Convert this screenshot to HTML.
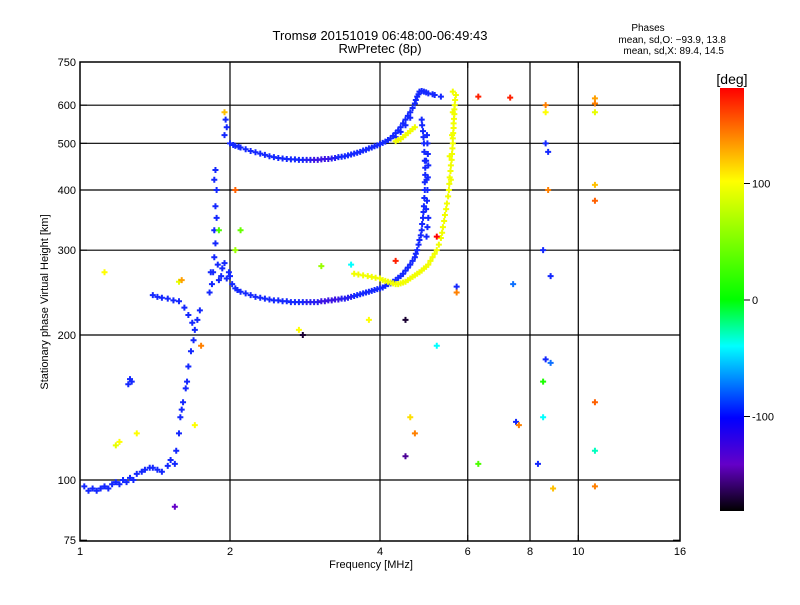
<!DOCTYPE html>
<html><head><meta charset="utf-8"><style>
body{margin:0;background:#fff;width:800px;height:600px;overflow:hidden;font-family:"Liberation Sans",sans-serif}
svg text{font-family:"Liberation Sans",sans-serif;fill:#000}
</style></head><body>
<svg id="chart" width="800" height="600">
<defs><linearGradient id="cb" x1="0" y1="0" x2="0" y2="1">
<stop offset="0" stop-color="#ff0000"/><stop offset="0.11" stop-color="#ff8000"/><stop offset="0.22" stop-color="#ffff00"/><stop offset="0.5" stop-color="#00ff00"/><stop offset="0.61" stop-color="#00ffff"/><stop offset="0.78" stop-color="#0000ff"/><stop offset="0.89" stop-color="#6400c8"/><stop offset="1" stop-color="#000000"/></linearGradient></defs>
<text x="380" y="40" font-size="13" text-anchor="middle">Tromsø 20151019 06:48:00-06:49:43</text>
<text x="380" y="53" font-size="13" text-anchor="middle">RwPretec (8p)</text>
<text x="648" y="31" font-size="10" text-anchor="middle">Phases</text>
<text x="726" y="43" font-size="10" text-anchor="end">mean, sd,O: −93.9, 13.8</text>
<text x="724" y="54" font-size="10" text-anchor="end">mean, sd,X:  89.4, 14.5</text>
<g id="grid"></g>
<g id="marks"></g>
<rect x="80" y="62" width="600" height="479" fill="none" stroke="#000" stroke-width="1.5"/>
<g id="axes"></g>
<text x="371" y="568" font-size="11" text-anchor="middle">Frequency [MHz]</text>
<text x="0" y="0" font-size="11" text-anchor="middle" transform="translate(48,302) rotate(-90)">Stationary phase Virtual Height [km]</text>
<rect x="720" y="88" width="24" height="423" fill="url(#cb)"/>
<text x="732" y="84" font-size="14" text-anchor="middle">[deg]</text>
<g id="cbticks"></g>
</svg>
<script>
const xTicks=[1,2,4,6,8,10,16];
const yTicks=[75,100,200,300,400,500,600,750];
const cbTicks=[100,0,-100];
// [freq MHz, height km, phase deg]
const lowTrace=[[1.02,97,-100],[1.04,95,-100],[1.06,96,-100],[1.08,95,-100],[1.1,96,-100],[1.12,97,-100],[1.14,96,-100],[1.16,98,-100],[1.18,99,-100],[1.2,98,-100],[1.22,100,-100],[1.24,99,-100],[1.26,101,-100],[1.28,100,-100],[1.3,103,-100],[1.33,104,-100],[1.35,105,-100],[1.38,106,-100],[1.4,106,-100],[1.43,105,-100],[1.46,104,-100],[1.5,107,-100],[1.52,110,-100],[1.55,108,-100],[1.56,115,-100],[1.58,125,-100],[1.59,135,-100],[1.6,140,-100],[1.61,145,-100],[1.63,155,-100],[1.64,160,-100],[1.65,172,-100],[1.67,185,-100],[1.69,195,-100],[1.7,205,-100],[1.72,215,-100],[1.74,225,-100],[1.25,158,-100],[1.26,162,-100],[1.27,160,-100],[1.4,242,-100],[1.43,240,-100],[1.46,239,-100],[1.5,238,-100],[1.54,236,-100],[1.58,235,-100],[1.62,228,-100],[1.65,220,-100],[1.68,212,-100]];
const columnTrace=[[1.82,245,-100],[1.84,255,-100],[1.85,270,-100],[1.86,290,-100],[1.87,310,-100],[1.86,330,-100],[1.88,350,-100],[1.87,370,-100],[1.88,400,-100],[1.86,420,-100],[1.87,440,-100],[1.89,280,-100],[1.9,260,-100],[1.92,265,-100],[1.93,275,-100],[1.95,282,-100],[1.97,262,-100],[1.99,270,-100],[1.83,270,-100],[1.95,520,-100],[1.96,560,-100],[1.97,540,-100]];
const oLower=[[2.0,265,-100],[2.02,255,-100],[2.05,250,-100],[2.07,248,-100],[2.1,246,-100],[2.15,244,-100],[2.2,242,-100],[2.25,240,-100],[2.3,239,-100],[2.35,238,-100],[2.4,237,-100],[2.45,236,-100],[2.5,236,-100],[2.55,235,-100],[2.6,235,-100],[2.65,234,-100],[2.7,234,-100],[2.75,234,-100],[2.8,234,-100],[2.85,234,-110],[2.9,234,-110],[2.95,234,-110],[3.0,234,-110],[3.05,235,-120],[3.1,235,-120],[3.15,236,-120],[3.2,236,-120],[3.25,237,-120],[3.3,237,-120],[3.35,238,-110],[3.4,238,-110],[3.45,239,-110],[3.5,240,-110],[3.55,241,-100],[3.6,242,-100],[3.65,243,-100],[3.7,244,-100],[3.75,245,-100],[3.8,246,-100],[3.85,247,-100],[3.9,248,-100],[3.95,249,-100],[4.0,250,-100],[4.05,251,-100],[4.1,253,-100],[4.15,255,-100],[4.2,256,-100],[4.25,258,-100],[4.3,260,-100],[4.35,263,-100],[4.4,265,-100],[4.45,268,-100],[4.5,272,-100],[4.55,276,-100],[4.6,280,-100],[4.65,285,-100],[4.7,290,-100],[4.72,295,-100],[4.75,300,-100],[4.78,308,-100],[4.8,315,-100],[4.83,322,-100],[4.85,330,-100],[4.86,340,-100],[4.88,350,-100],[4.89,360,-100],[4.9,370,-100],[4.91,385,-100],[4.92,400,-100],[4.92,415,-100],[4.93,430,-100],[4.93,445,-100],[4.92,460,-100],[4.91,480,-100],[4.9,500,-100],[4.89,515,-100],[4.88,530,-100],[4.86,545,-100],[4.85,560,-100],[4.97,380,-100],[4.98,400,-100],[4.99,425,-100],[5.0,450,-100],[4.99,475,-100],[4.98,500,-100],[4.97,520,-100],[5.0,350,-100],[4.98,335,-100],[4.96,320,-100],[4.95,365,-100],[4.96,420,-100],[4.95,460,-100]];
const oUpper=[[2.0,500,-100],[2.03,496,-100],[2.05,494,-100],[2.08,492,-100],[2.1,490,-100],[2.15,486,-100],[2.2,482,-100],[2.25,479,-100],[2.3,476,-100],[2.35,473,-100],[2.4,470,-100],[2.45,468,-100],[2.5,466,-100],[2.55,465,-100],[2.6,464,-100],[2.65,463,-100],[2.7,463,-100],[2.75,462,-100],[2.8,462,-100],[2.85,462,-110],[2.9,462,-110],[2.95,462,-120],[3.0,462,-120],[3.05,463,-120],[3.1,464,-120],[3.15,464,-120],[3.2,465,-110],[3.25,466,-110],[3.3,468,-100],[3.35,469,-100],[3.4,470,-100],[3.45,472,-100],[3.5,474,-100],[3.55,476,-100],[3.6,478,-100],[3.65,480,-100],[3.7,483,-100],[3.75,485,-100],[3.8,488,-100],[3.85,490,-100],[3.9,493,-100],[3.95,495,-100],[4.0,498,-100],[4.05,501,-100],[4.1,504,-100],[4.15,508,-100],[4.2,512,-100],[4.25,518,-100],[4.3,525,-100],[4.35,532,-100],[4.4,540,-100],[4.45,550,-100],[4.5,560,-100],[4.55,570,-100],[4.6,580,-100],[4.65,592,-100],[4.7,605,-100],[4.72,615,-100],[4.75,625,-100],[4.78,632,-100],[4.8,640,-100],[4.85,642,-100],[4.9,640,-100],[4.95,638,-100],[5.0,635,-100],[5.1,632,-100],[5.15,630,-100],[5.3,625,-100],[4.6,565,-100],[4.5,545,-100],[4.4,528,-100],[4.3,515,-100]];
const xTrace=[[3.55,268,95],[3.62,267,95],[3.7,266,95],[3.78,265,95],[3.85,264,95],[3.92,263,95],[4.0,262,95],[4.05,260,95],[4.1,259,95],[4.15,258,95],[4.2,257,95],[4.25,256,95],[4.3,255,95],[4.35,255,95],[4.4,256,95],[4.45,257,95],[4.5,258,95],[4.55,260,95],[4.6,262,95],[4.65,264,95],[4.7,266,95],[4.75,268,95],[4.8,270,95],[4.85,272,95],[4.9,275,95],[4.95,277,95],[5.0,280,95],[5.05,285,95],[5.1,290,95],[5.15,295,95],[5.2,300,95],[5.25,308,95],[5.3,318,95],[5.33,326,95],[5.35,335,95],[5.38,345,95],[5.4,355,95],[5.43,365,95],[5.45,375,95],[5.48,388,95],[5.5,400,95],[5.51,412,95],[5.52,425,95],[5.54,438,95],[5.55,450,95],[5.57,462,95],[5.58,475,95],[5.59,488,95],[5.6,500,95],[5.6,512,95],[5.61,525,95],[5.62,538,95],[5.62,550,95],[5.63,562,95],[5.64,575,95],[5.64,588,95],[5.65,600,95],[5.66,615,95],[5.68,630,95],[5.6,640,95],[5.55,420,95],[5.58,520,95],[5.6,580,95],[5.52,470,95],[4.3,505,95],[4.35,508,95],[4.4,510,95],[4.45,515,95],[4.5,520,95],[4.55,525,95],[4.6,530,95],[4.65,535,95],[4.7,540,95]];
const scatter=[[6.3,625,170],[7.3,622,170],[8.6,600,140],[8.6,580,100],[10.8,620,130],[10.8,605,140],[10.8,580,90],[10.8,410,120],[10.8,380,150],[8.7,400,140],[8.7,480,-100],[8.6,500,-100],[8.5,300,-100],[8.8,265,-100],[7.4,255,-80],[8.5,135,-40],[7.5,132,-100],[7.6,130,140],[8.3,108,-100],[6.3,108,30],[8.5,160,10],[8.8,175,-80],[8.6,178,-100],[10.8,145,150],[10.8,115,-30],[10.8,97,140],[8.9,96,120],[4.5,112,-150],[4.6,135,110],[4.7,125,140],[5.2,190,-40],[4.5,215,-170],[3.8,215,100],[1.12,270,100],[1.58,258,90],[1.2,120,100],[1.3,125,100],[1.7,130,100],[1.18,118,90],[1.55,88,-140],[1.75,190,140],[1.9,330,30],[2.05,400,150],[2.05,300,60],[2.1,330,40],[1.6,260,130],[2.8,200,-170],[2.75,205,100],[3.05,278,60],[3.5,280,-40],[4.3,285,170],[5.2,320,180],[5.7,252,-100],[5.7,245,140],[1.95,580,120]];
const traces=[lowTrace,columnTrace,oLower,oUpper,xTrace,scatter];

const NS="http://www.w3.org/2000/svg";
const xs=f=>80+150*Math.log2(f);
const ys=h=>480-145*Math.log2(h/100);
const cy=p=>300-p*1.165;
const stops=[[180,[255,0,0]],[140,[255,128,0]],[100,[255,255,0]],[0,[0,255,0]],[-40,[0,255,255]],[-100,[20,40,255]],[-140,[100,0,200]],[-180,[0,0,0]]];
function col(p){for(let i=0;i<stops.length-1;i++){const a=stops[i],b=stops[i+1];if(p<=a[0]&&p>=b[0]){const t=(a[0]-p)/(a[0]-b[0]);return 'rgb('+a[1].map((v,k)=>Math.round(v+(b[1][k]-v)*t)).join(',')+')';}}return p>180?'red':'black';}
function mk(tag,attrs,parent){const e=document.createElementNS(NS,tag);for(const k in attrs)e.setAttribute(k,attrs[k]);parent.appendChild(e);return e;}
const grid=document.getElementById('grid'),axes=document.getElementById('axes'),marks=document.getElementById('marks'),cbt=document.getElementById('cbticks');
xTicks.forEach(f=>{const x=xs(f);
 if(f>1&&f<16){const l=mk('line',{x1:x,x2:x,y1:62,y2:541,stroke:'#000','stroke-width':1.2},grid);
 
 }
 const t=mk('text',{x:x,y:555,'font-size':11,'text-anchor':'middle'},axes);t.textContent=f;
 
 
 mk('line',{x1:x,x2:x,y1:62,y2:68,stroke:'#000'},axes);mk('line',{x1:x,x2:x,y1:535,y2:541,stroke:'#000'},axes);});
yTicks.forEach(h=>{const y=h===750?62:ys(h);
 if(h>75&&h<750){const l=mk('line',{x1:80,x2:680,y1:y,y2:y,stroke:'#000','stroke-width':1.2},grid);
 
 }
 const t=mk('text',{x:76,y:y+4,'font-size':11,'text-anchor':'end'},axes);t.textContent=h;
 
 
 mk('line',{x1:80,x2:87,y1:y,y2:y,stroke:'#000'},axes);mk('line',{x1:673,x2:680,y1:y,y2:y,stroke:'#000'},axes);});
cbTicks.forEach(p=>{const y=cy(p);mk('line',{x1:744,x2:750,y1:y,y2:y,stroke:'#000'},cbt);
 const t=mk('text',{x:752,y:y+4,'font-size':11},cbt);t.textContent=p;
 
 });
traces.forEach(tr=>tr.forEach(d=>{const x=xs(d[0]),y=ys(d[1]),c=col(d[2]);
 const g=mk('path',{d:`M${x-3},${y}H${x+3}M${x},${y-3}V${y+3}`,stroke:c,'stroke-width':2,fill:'none'},marks);
 
 }));
</script>
</body></html>
